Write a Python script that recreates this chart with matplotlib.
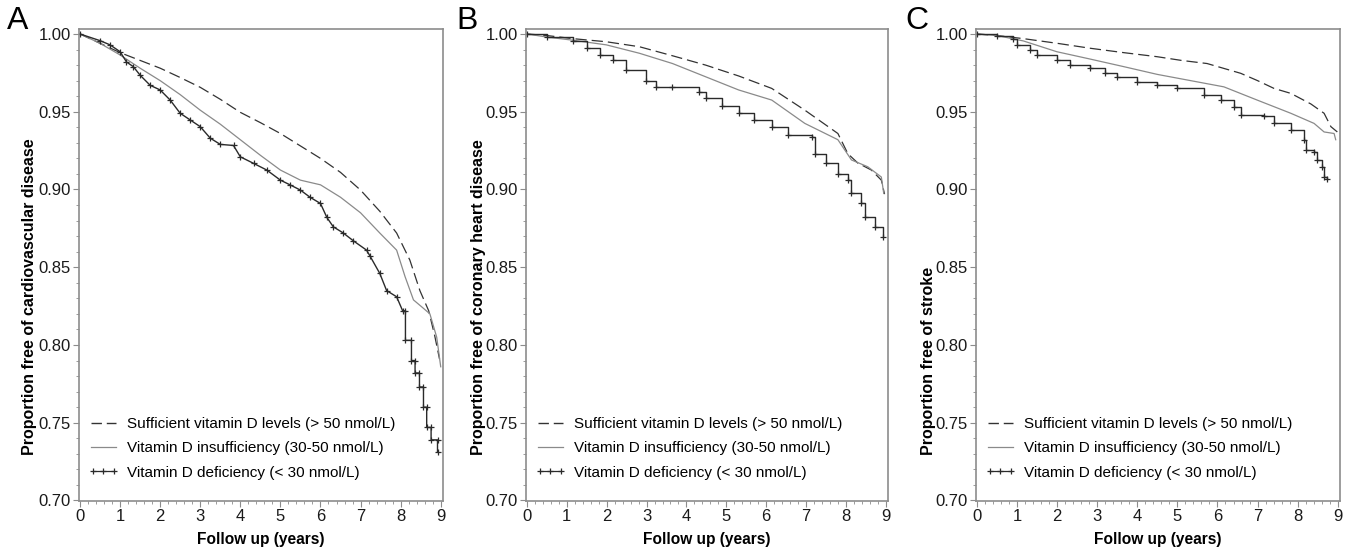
import matplotlib
matplotlib.use("Agg")
import matplotlib.pyplot as plt
from matplotlib.lines import Line2D
from matplotlib.legend_handler import HandlerLine2D
from matplotlib.ticker import MultipleLocator, FormatStrFormatter

plt.rcParams['font.family'] = ['Liberation Sans', 'DejaVu Sans']

# ---------------- data ----------------
legend_labels = ["Sufficient vitamin D levels (> 50 nmol/L)",
                 "Vitamin D insufficiency (30-50 nmol/L)",
                 "Vitamin D deficiency (< 30 nmol/L)"]
panel_letters = ["A", "B", "C"]
ylabels = ["Proportion free of cardiovascular disease",
           "Proportion free of coronary heart disease",
           "Proportion free of stroke"]
xlabel = "Follow up (years)"

# Panel A - cardiovascular disease
a_suf_t = [0, 0.5, 1.0, 1.5, 2.0, 2.5, 3.0, 3.5, 4.0, 4.5, 5.0, 5.5, 6.0, 6.5, 7.0, 7.48, 7.9, 8.23, 8.48, 8.7, 8.85, 8.97]
a_suf_v = [1.0, 0.994, 0.988, 0.983, 0.978, 0.972, 0.9657, 0.958, 0.9496, 0.943, 0.936, 0.928, 0.92, 0.911, 0.8996, 0.886, 0.872, 0.8546, 0.835, 0.822, 0.806, 0.791]
a_ins_t = [0, 0.5, 1.0, 1.5, 2.0, 2.5, 3.0, 3.5, 4.0, 4.5, 5.0, 5.5, 6.0, 6.5, 7.0, 7.48, 7.9, 8.11, 8.32, 8.55, 8.73, 8.9, 9.0]
a_ins_v = [1.0, 0.994, 0.9865, 0.978, 0.970, 0.961, 0.951, 0.942, 0.932, 0.922, 0.9125, 0.906, 0.903, 0.895, 0.885, 0.872, 0.861, 0.844, 0.829, 0.824, 0.82, 0.805, 0.786]
a_def_t = [0, 0.5, 0.75, 1.0, 1.16, 1.33, 1.5, 1.75, 2.0, 2.25, 2.5, 2.75, 3.0, 3.25, 3.5, 3.83, 4.0, 4.33, 4.66, 5.0, 5.24, 5.5, 5.74, 6.0, 6.16, 6.32, 6.57, 6.82, 7.15, 7.24, 7.48, 7.65, 7.9, 8.05,
           8.12, 8.12, 8.27, 8.27, 8.36, 8.36, 8.47, 8.47, 8.57, 8.57, 8.65, 8.65, 8.76, 8.76, 8.92, 8.92]
a_def_v = [1.0, 0.9957, 0.993, 0.9886, 0.982, 0.979, 0.9735, 0.967, 0.964, 0.9575, 0.949, 0.9447, 0.9404, 0.933, 0.929, 0.9283, 0.921, 0.9168, 0.9125, 0.906, 0.903, 0.8996, 0.895, 0.891, 0.882, 0.876, 0.872, 0.867, 0.861, 0.857, 0.846, 0.835, 0.831, 0.822,
           0.822, 0.803, 0.803, 0.790, 0.790, 0.782, 0.782, 0.773, 0.773, 0.760, 0.760, 0.747, 0.747, 0.739, 0.739, 0.731]

# Panel B - coronary heart disease
b_suf_t = [0, 0.5, 1.15, 1.99, 2.82, 3.65, 4.48, 5.31, 6.14, 6.97, 7.8, 8.05, 8.3, 8.64, 8.89, 8.97]
b_suf_v = [1.0, 0.999, 0.997, 0.995, 0.9918, 0.986, 0.980, 0.973, 0.965, 0.951, 0.936, 0.923, 0.917, 0.9125, 0.906, 0.897]
b_ins_t = [0, 0.5, 1.15, 1.99, 2.82, 3.65, 4.48, 5.31, 6.14, 6.97, 7.8, 8.14, 8.55, 8.89, 8.95]
b_ins_v = [1.0, 0.998, 0.996, 0.993, 0.9876, 0.981, 0.9725, 0.964, 0.9575, 0.9425, 0.932, 0.919, 0.9146, 0.908, 0.8975]
b_def_t = [0, 0.5, 1.15, 1.5, 1.82, 2.15, 2.49, 2.98, 3.23, 3.65, 4.31, 4.48, 4.9, 5.31, 5.7, 6.14, 6.56, 7.14, 7.22, 7.5, 7.8, 8.05, 8.14, 8.39, 8.47, 8.72, 8.93]
b_def_v = [1.0, 0.998, 0.9955, 0.991, 0.9865, 0.983, 0.977, 0.970, 0.966, 0.9657, 0.963, 0.9586, 0.954, 0.949, 0.945, 0.9404, 0.935, 0.934, 0.923, 0.917, 0.910, 0.906, 0.8975, 0.891, 0.8825, 0.876, 0.8696]

# Panel C - stroke
c_suf_t = [0, 0.5, 1.16, 2.0, 2.83, 3.66, 4.49, 5.1, 5.74, 6.58, 7.0, 7.41, 7.83, 8.33, 8.66, 8.83, 8.99]
c_suf_v = [1.0, 0.999, 0.997, 0.994, 0.9908, 0.988, 0.9854, 0.983, 0.981, 0.9747, 0.970, 0.965, 0.9618, 0.955, 0.949, 0.9404, 0.937]
c_ins_t = [0, 0.5, 1.16, 1.99, 2.8, 3.66, 4.5, 5.33, 6.16, 6.99, 7.83, 8.41, 8.66, 8.91, 8.95]
c_ins_v = [1.0, 0.999, 0.9955, 0.9886, 0.984, 0.979, 0.974, 0.970, 0.966, 0.9575, 0.949, 0.9425, 0.937, 0.936, 0.932]
c_def_t = [0, 0.5, 0.91, 0.99, 1.33, 1.49, 1.99, 2.33, 2.83, 3.2, 3.49, 3.99, 4.5, 4.99, 5.66, 6.08, 6.41, 6.58, 7.16, 7.41, 7.83, 8.16, 8.2, 8.41, 8.49, 8.62, 8.66, 8.73]
c_def_v = [1.0, 0.999, 0.997, 0.993, 0.990, 0.9865, 0.983, 0.980, 0.978, 0.975, 0.9725, 0.969, 0.967, 0.965, 0.9607, 0.9575, 0.953, 0.948, 0.947, 0.9425, 0.938, 0.932, 0.9254, 0.9243, 0.919, 0.9146, 0.908, 0.907]

panels = [
    (a_suf_t, a_suf_v, a_ins_t, a_ins_v, a_def_t, a_def_v),
    (b_suf_t, b_suf_v, b_ins_t, b_ins_v, b_def_t, b_def_v),
    (c_suf_t, c_suf_v, c_ins_t, c_ins_v, c_def_t, c_def_v),
]
def_drawstyle = ["default", "steps-post", "steps-post"]

# ---------------- layout ----------------
W, H = 1349, 547
fig = plt.figure(figsize=(W / 100, H / 100), dpi=100)
fig.patch.set_facecolor("white")

ax_px = [(79, 443), (526, 888), (976, 1340)]
top_px, bot_px = 29, 500.5
letter_x = [18, 467, 917]
ylabel_x = [30, 479, 929]
ylabel_bottom_px = 455

suf_col, ins_col, def_col = "#333333", "#8a8a8a", "#2a2a2a"
spine_col = "#8c8c8c"
for i, (l, r) in enumerate(ax_px):
    ax = fig.add_axes([l / W, 1 - bot_px / H, (r - l) / W, (bot_px - top_px) / H])
    st, sv, it, iv, dt, dv = panels[i]
    ax.plot(st, sv, color=suf_col, lw=0.9, dashes=(9, 4))
    ax.plot(it, iv, color=ins_col, lw=0.9)
    ax.plot(dt, dv, drawstyle=def_drawstyle[i], color=def_col, lw=1.0,
            marker="+", markersize=5, markeredgewidth=0.9)

    ax.set_xlim(-0.025, 9.057)
    ax.set_ylim(0.70, 1.0032)
    ax.xaxis.set_major_locator(MultipleLocator(1))
    ax.xaxis.set_minor_locator(MultipleLocator(0.2))
    ax.yaxis.set_major_locator(MultipleLocator(0.05))
    ax.yaxis.set_minor_locator(MultipleLocator(0.01))
    ax.yaxis.set_major_formatter(FormatStrFormatter("%.2f"))
    for s in ax.spines.values():
        s.set_color(spine_col)
        s.set_linewidth(1.2)
    ax.tick_params(which="major", direction="out", length=4, width=0.8,
                   color=spine_col, labelsize=12, pad=2, labelcolor="#1a1a1a")
    ax.tick_params(which="minor", direction="out", length=2, width=0.6,
                   color=spine_col)
    ax.set_xlabel(xlabel, fontsize=11.2, fontweight="bold", labelpad=6)

    fig.text(ylabel_x[i] / W, 1 - ylabel_bottom_px / H, ylabels[i],
             rotation=90, ha="center", va="bottom", fontsize=11.5,
             fontweight="bold")
    fig.text(letter_x[i] / W, 1 - 21 / H, panel_letters[i], ha="center",
             va="center", fontsize=23)

    # legend proxies (same styles as the curves)
    p1 = Line2D([], [], color=suf_col, lw=1.0, dashes=(7.5, 3.5))
    p2 = Line2D([], [], color=ins_col, lw=0.9)
    p3 = Line2D([], [], color=def_col, lw=0.9, marker="+", markersize=5,
                markeredgewidth=0.9)
    ax.legend([p1, p2, p3], legend_labels, loc="upper left",
              bbox_to_anchor=((l + 12) / W, 1 - 417 / H),
              bbox_transform=fig.transFigure, frameon=False, fontsize=11,
              handlelength=1.63, handletextpad=0.75, labelspacing=0.68,
              numpoints=1, borderaxespad=0, borderpad=0,
              handler_map={p3: HandlerLine2D(numpoints=3, marker_pad=0.15)})

fig.savefig("out.png", dpi=100, facecolor="white")
